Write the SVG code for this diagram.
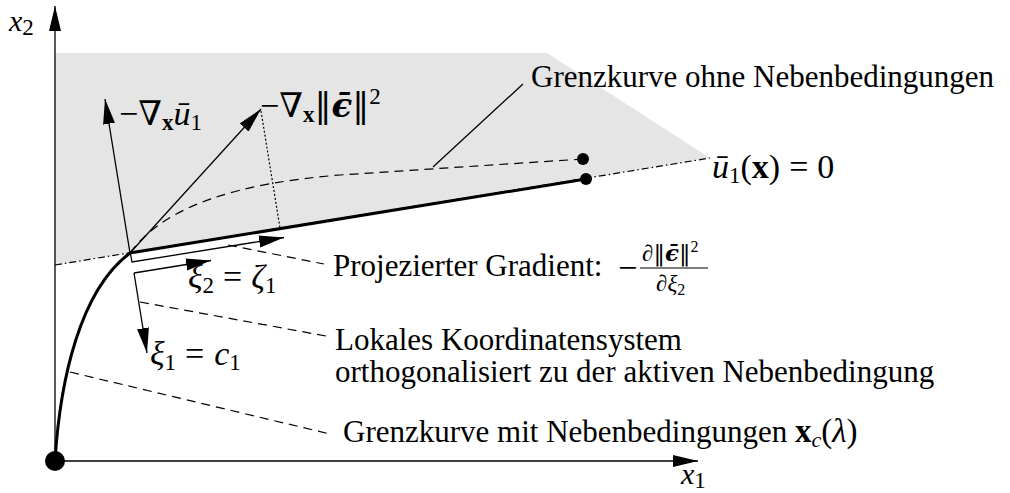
<svg xmlns="http://www.w3.org/2000/svg" width="1010" height="493" viewBox="0 0 1010 493">
<defs>
<marker id="ah" markerUnits="userSpaceOnUse" markerWidth="27" markerHeight="13" refX="25" refY="6.5" orient="auto" viewBox="0 0 27 13"><path d="M0,0.5 L25,6.5 L0,12.5 z" fill="#000"/></marker>
</defs>
<style>
.t{font-family:"Liberation Serif","DejaVu Serif",serif;font-size:31px;fill:#000}
.m{font-family:"Liberation Serif","DejaVu Serif",serif;font-size:34px;fill:#000}
.a{font-family:"Liberation Serif","DejaVu Serif",serif;font-size:30px;fill:#000;font-style:italic}
.d{font-family:"DejaVu Serif",serif}
.i{font-style:italic}
.b{font-weight:bold}
.s{font-size:23px}
.f{font-size:23px}
.ln{fill:none;stroke:#000;stroke-width:1.3}
.dash{fill:none;stroke:#000;stroke-width:1.2;stroke-dasharray:9 6}
.arr{fill:none;stroke:#000;stroke-width:1.3;marker-end:url(#ah)}
</style>
<rect width="1010" height="493" fill="#fff"/>
<g id="region">
<polygon points="55,53 547,53 710,158 55,265" fill="#e5e5e5"/>
</g>
<g id="connectors">
<line class="arr" x1="55" y1="461" x2="55" y2="6" stroke-width="1.6"/>
<line class="arr" x1="55" y1="461" x2="698" y2="461" stroke-width="1.6"/>
<line x1="55" y1="265" x2="710" y2="158" stroke="#000" stroke-width="1.2" stroke-dasharray="7 3 1.5 3" fill="none"/>
<path class="dash" d="M130,253 C165,205 240,183 340,175 L583,159"/>
<path d="M55,461 C60,380 80,290 130,253 L586,179" fill="none" stroke="#000" stroke-width="3"/>
<line class="arr" x1="130" y1="253" x2="105" y2="99"/>
<line class="arr" x1="130" y1="253" x2="261" y2="109"/>
<line x1="261" y1="111" x2="280" y2="228" stroke="#000" stroke-width="1.2" stroke-dasharray="2 2"/>
<polyline class="ln" points="130.5,254 132,262 284,237.5" marker-end="url(#ah)"/>
<line class="arr" x1="134" y1="273" x2="211" y2="260.5"/>
<line class="arr" x1="134" y1="273" x2="147" y2="353"/>
<line class="ln" x1="433" y1="167" x2="523" y2="84" stroke-width="1.1"/>
<line class="dash" x1="228" y1="245" x2="324" y2="264"/>
<line class="dash" x1="140" y1="302" x2="326" y2="336"/>
<line class="dash" x1="70" y1="372" x2="330" y2="434"/>
</g>
<g id="points">
<circle cx="55" cy="461" r="10" fill="#000"/>
<circle cx="583" cy="159" r="6" fill="#000"/>
<circle cx="586" cy="179" r="6" fill="#000"/>
</g>
<g id="axis-labels">
<text class="a" x="9" y="31">x<tspan class="s" font-style="normal" dy="4">2</tspan></text>
<text class="a" x="681" y="484">x<tspan class="s" font-style="normal" dy="4">1</tspan></text>
</g>
<g id="grad-u">
<text class="m" x="119" y="125">−∇<tspan class="b s" dy="5">x</tspan><tspan class="i" dy="-5">ū</tspan><tspan class="s" dy="5">1</tspan></text>
</g>
<g id="grad-eps">
<text class="m" x="260" y="117">−∇<tspan class="b s" dy="5">x</tspan><tspan class="d" dy="-5">‖</tspan><tspan class="b i d">ϵ̄</tspan><tspan class="d">‖</tspan><tspan class="s" dy="-13">2</tspan></text>
</g>
<g id="label-u1">
<text class="m" x="712" y="178"><tspan class="i">ū</tspan><tspan class="s" dy="5">1</tspan><tspan dy="-5">(</tspan><tspan class="b">x</tspan><tspan>)</tspan><tspan dx="9">=</tspan><tspan dx="9">0</tspan></text>
</g>
<g id="label-ohne">
<text class="t" x="531" y="87">Grenzkurve ohne Nebenbedingungen</text>
</g>
<g id="label-proj">
<text class="t" x="333" y="276">Projezierter Gradient:</text>
<text class="m" x="618" y="279">−</text>
<line x1="640" y1="268" x2="708" y2="268" stroke="#000" stroke-width="1.2"/>
<text class="m f" x="642" y="261">∂<tspan class="d">‖</tspan><tspan class="b i d">ϵ̄</tspan><tspan class="d">‖</tspan><tspan font-size="16px" dy="-9">2</tspan></text>
<text class="m f" x="656" y="291">∂<tspan class="i">ξ</tspan><tspan font-size="16px" dy="4">2</tspan></text>
</g>
<g id="label-xi2">
<text class="m" x="188" y="288"><tspan class="i">ξ</tspan><tspan class="s" dy="5">2</tspan><tspan dy="-5" dx="9">=</tspan><tspan class="i" dx="9">ζ</tspan><tspan class="s" dy="5">1</tspan></text>
</g>
<g id="label-xi1">
<text class="m" x="150" y="365"><tspan class="i">ξ</tspan><tspan class="s" dy="5">1</tspan><tspan dy="-5" dx="9">=</tspan><tspan class="i" dx="10">c</tspan><tspan class="s" dy="5">1</tspan></text>
</g>
<g id="label-lokal">
<text class="t" x="335" y="350">Lokales Koordinatensystem</text>
<text class="t" x="335" y="382">orthogonalisiert zu der aktiven Nebenbedingung</text>
</g>
<g id="label-mit">
<text class="t" x="343" y="442">Grenzkurve mit Nebenbedingungen <tspan class="b" font-size="33px">x</tspan><tspan class="i" font-size="22px" dy="5">c</tspan><tspan font-size="33px" dy="-5">(</tspan><tspan class="i" font-size="33px">λ</tspan><tspan font-size="33px">)</tspan></text>
</g>
</svg>
